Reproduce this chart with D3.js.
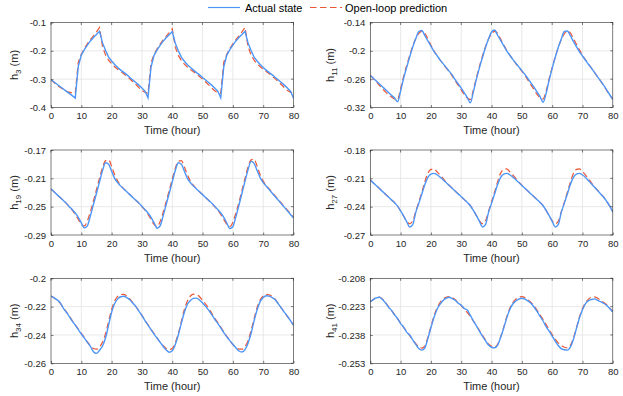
<!DOCTYPE html>
<html><head><meta charset="utf-8">
<script src="https://cdn.jsdelivr.net/npm/d3@7"></script>
<style>
body{margin:0;background:#fff}
svg{display:block;font-family:"Liberation Sans",Arial,Helvetica,sans-serif}
</style>
</head><body>
<script>
// ---------- data ----------
const hours = [0,1,2,3,4,5,6,7,8,9,10,11,12,13,14,15,16,17,18,19,20,21,22,23,24,25,26,27,28,29,30,31,32,33,34,35,36,37,38,39,40,41,42,43,44,45,46,47,48,49,50,51,52,53,54,55,56,57,58,59,60,61,62,63,64,65,66,67,68,69,70,71,72,73,74,75,76,77,78,79,80];
const xTicks = [0,10,20,30,40,50,60,70,80];
const seriesNames = ["Actual state","Open-loop prediction"];
const nodeIds = ["3","11","19","27","34","41"];

const h3Actual = [-0.302,-0.310,-0.318,-0.326,-0.334,-0.342,-0.350,-0.358,-0.367,
 -0.255,-0.215,-0.196,-0.180,-0.165,-0.153,-0.142,-0.131,-0.172,-0.199,-0.222,-0.236,-0.248,-0.259,-0.268,-0.276,-0.284,-0.294,-0.303,-0.312,-0.321,-0.331,-0.342,-0.366,
 -0.257,-0.216,-0.197,-0.181,-0.166,-0.154,-0.143,-0.132,-0.173,-0.200,-0.222,-0.237,-0.249,-0.259,-0.268,-0.277,-0.285,-0.294,-0.303,-0.312,-0.321,-0.331,-0.342,-0.366,
 -0.256,-0.215,-0.196,-0.180,-0.165,-0.153,-0.142,-0.131,-0.172,-0.199,-0.222,-0.236,-0.248,-0.259,-0.268,-0.277,-0.285,-0.294,-0.303,-0.312,-0.321,-0.331,-0.342,-0.367];
const h3Pred = [-0.302,-0.312,-0.321,-0.329,-0.336,-0.342,-0.346,-0.349,-0.350,
 -0.240,-0.212,-0.192,-0.175,-0.160,-0.147,-0.133,-0.118,-0.185,-0.215,-0.233,-0.246,-0.256,-0.265,-0.273,-0.281,-0.290,-0.299,-0.309,-0.319,-0.330,-0.340,-0.346,-0.350,
 -0.242,-0.213,-0.193,-0.176,-0.161,-0.149,-0.136,-0.122,-0.187,-0.216,-0.234,-0.247,-0.257,-0.266,-0.274,-0.282,-0.291,-0.300,-0.310,-0.320,-0.331,-0.341,-0.347,-0.350,
 -0.240,-0.212,-0.192,-0.175,-0.160,-0.147,-0.133,-0.117,-0.185,-0.215,-0.233,-0.246,-0.256,-0.265,-0.273,-0.281,-0.290,-0.299,-0.309,-0.319,-0.330,-0.340,-0.346,-0.349];

const h11Actual = [-0.252,-0.258,-0.264,-0.270,-0.276,-0.282,-0.288,-0.294,-0.300,-0.308,
 -0.285,-0.258,-0.235,-0.213,-0.192,-0.174,-0.159,
 -0.157,-0.168,-0.179,-0.190,-0.201,-0.210,-0.219,-0.227,-0.235,-0.243,-0.251,-0.261,-0.270,-0.279,-0.289,-0.299,-0.310,
 -0.287,-0.260,-0.236,-0.214,-0.193,-0.175,-0.160,-0.156,-0.167,-0.178,-0.189,-0.200,-0.209,-0.218,-0.226,-0.234,-0.242,-0.250,-0.259,-0.268,-0.277,-0.287,-0.297,-0.309,
 -0.290,-0.262,-0.237,-0.214,-0.193,-0.175,-0.159,-0.158,-0.168,-0.180,-0.191,-0.202,-0.211,-0.220,-0.229,-0.237,-0.246,-0.255,-0.264,-0.273,-0.283,-0.293,-0.303];
const h11Pred = [-0.252,-0.259,-0.266,-0.273,-0.280,-0.287,-0.293,-0.298,-0.302,-0.303,
 -0.280,-0.254,-0.231,-0.210,-0.190,-0.174,-0.163,
 -0.159,-0.163,-0.175,-0.188,-0.200,-0.210,-0.219,-0.228,-0.236,-0.244,-0.253,-0.263,-0.273,-0.283,-0.293,-0.300,-0.303,
 -0.283,-0.257,-0.233,-0.211,-0.191,-0.175,-0.164,-0.159,-0.163,-0.175,-0.187,-0.199,-0.209,-0.218,-0.227,-0.235,-0.243,-0.252,-0.262,-0.272,-0.282,-0.292,-0.299,-0.302,
 -0.285,-0.259,-0.235,-0.213,-0.193,-0.176,-0.164,-0.158,-0.162,-0.174,-0.186,-0.198,-0.209,-0.219,-0.228,-0.237,-0.246,-0.255,-0.264,-0.274,-0.284,-0.294,-0.302];

const h19Actual = [-0.225,-0.229,-0.233,-0.237,-0.241,-0.245,-0.250,-0.254,-0.259,-0.265,-0.273,-0.280,
 -0.277,-0.263,-0.247,-0.231,-0.215,-0.199,-0.188,
 -0.190,-0.200,-0.210,-0.216,-0.221,-0.225,-0.229,-0.233,-0.237,-0.241,-0.245,-0.2495,-0.254,-0.259,-0.265,-0.273,-0.2805,
 -0.277,-0.263,-0.247,-0.231,-0.215,-0.199,-0.188,-0.190,-0.200,-0.210,-0.216,-0.221,-0.225,-0.229,-0.233,-0.237,-0.241,-0.245,-0.2495,-0.254,-0.259,-0.265,-0.273,-0.281,
 -0.278,-0.264,-0.248,-0.231,-0.214,-0.198,-0.186,-0.189,-0.199,-0.209,-0.216,-0.221,-0.226,-0.231,-0.236,-0.241,-0.246,-0.251,-0.256,-0.261,-0.266];
const h19Pred = [-0.225,-0.229,-0.233,-0.237,-0.241,-0.245,-0.250,-0.255,-0.261,-0.268,-0.275,-0.277,
 -0.270,-0.257,-0.242,-0.226,-0.210,-0.195,-0.185,
 -0.184,-0.193,-0.205,-0.214,-0.220,-0.225,-0.229,-0.233,-0.237,-0.241,-0.245,-0.250,-0.255,-0.261,-0.268,-0.275,-0.278,
 -0.271,-0.258,-0.243,-0.227,-0.211,-0.196,-0.186,-0.185,-0.194,-0.205,-0.214,-0.220,-0.225,-0.229,-0.233,-0.237,-0.241,-0.245,-0.250,-0.255,-0.261,-0.268,-0.275,-0.278,
 -0.272,-0.259,-0.244,-0.227,-0.210,-0.194,-0.184,-0.183,-0.193,-0.205,-0.214,-0.220,-0.225,-0.230,-0.235,-0.240,-0.245,-0.250,-0.255,-0.260,-0.265];

const h27Actual = [-0.2118,-0.2148,-0.2178,-0.2208,-0.2238,-0.2268,-0.2298,-0.2328,-0.2358,-0.2395,-0.2445,-0.2500,-0.2558,-0.2615,
 -0.2590,-0.2460,-0.2365,-0.2265,-0.2165,-0.2090,-0.2055,-0.2048,
 -0.2062,-0.2085,-0.2115,-0.2145,-0.2175,-0.2205,-0.2235,-0.2265,-0.2295,-0.2325,-0.2355,-0.2390,-0.2440,-0.2495,-0.2555,-0.2615,
 -0.2590,-0.2460,-0.2365,-0.2265,-0.2165,-0.2090,-0.2055,-0.2048,-0.2062,-0.2085,-0.2115,-0.2145,-0.2175,-0.2205,-0.2235,-0.2265,-0.2295,-0.2325,-0.2355,-0.2390,-0.2440,-0.2495,-0.2555,-0.2615,
 -0.2590,-0.2460,-0.2365,-0.2265,-0.2165,-0.2090,-0.2055,-0.2048,
 -0.2065,-0.2090,-0.2125,-0.2160,-0.2195,-0.2230,-0.2265,-0.2300,-0.2345,-0.2395,-0.2455];
const h27Pred = [-0.2118,-0.2148,-0.2178,-0.2208,-0.2238,-0.2268,-0.2298,-0.2328,-0.2358,-0.2395,-0.2445,-0.2500,-0.2555,-0.2580,
 -0.2550,-0.2450,-0.2350,-0.2245,-0.2135,-0.2045,-0.2005,-0.2000,
 -0.2030,-0.2065,-0.2100,-0.2140,-0.2172,-0.2205,-0.2235,-0.2265,-0.2295,-0.2325,-0.2355,-0.2390,-0.2440,-0.2495,-0.2550,-0.2580,
 -0.2550,-0.2450,-0.2350,-0.2245,-0.2135,-0.2045,-0.2005,-0.2000,-0.2030,-0.2065,-0.2100,-0.2140,-0.2172,-0.2205,-0.2235,-0.2265,-0.2295,-0.2325,-0.2355,-0.2390,-0.2440,-0.2495,-0.2550,-0.2580,
 -0.2555,-0.2455,-0.2355,-0.2250,-0.2140,-0.2050,-0.2005,-0.2000,
 -0.2030,-0.2065,-0.2105,-0.2150,-0.2190,-0.2228,-0.2265,-0.2300,-0.2345,-0.2395,-0.2455];

const h34Actual = [-0.2125,-0.2138,-0.2152,-0.2172,-0.2208,-0.2238,-0.2268,-0.2302,-0.2331,-0.2362,-0.2393,-0.2421,-0.2452,-0.2481,-0.2518,-0.2530,-0.2508,-0.2478,-0.2420,-0.2330,
 -0.2240,-0.2178,-0.2145,-0.2130,-0.2127,-0.2136,-0.2152,-0.2176,-0.2200,-0.2232,-0.2263,-0.2298,-0.2330,-0.2362,-0.2394,-0.2423,-0.2452,-0.2481,-0.2506,-0.2522,
 -0.2512,-0.2468,-0.2400,-0.2318,-0.2240,-0.2183,-0.2157,-0.2142,-0.2140,-0.2153,-0.2174,-0.2198,-0.2225,-0.2256,-0.2289,-0.2318,-0.2350,-0.2384,-0.2413,-0.2440,
 -0.2466,-0.2490,-0.2513,-0.2520,-0.2503,-0.2458,-0.2390,-0.2300,-0.2222,-0.2165,-0.2136,-0.2123,-0.2126,-0.2137,-0.2152,-0.2181,-0.2210,-0.2240,-0.2268,-0.2299,-0.2330];
const h34Pred = [-0.2125,-0.2138,-0.2155,-0.2175,-0.2205,-0.2235,-0.2265,-0.2298,-0.2328,-0.2358,-0.2388,-0.2418,-0.2448,-0.2475,-0.2495,-0.2500,-0.2485,-0.2450,-0.2390,-0.2305,
 -0.2220,-0.2160,-0.2128,-0.2115,-0.2113,-0.2125,-0.2145,-0.2172,-0.2200,-0.2230,-0.2262,-0.2295,-0.2328,-0.2360,-0.2390,-0.2420,-0.2450,-0.2475,-0.2495,-0.2503,
 -0.2495,-0.2455,-0.2390,-0.2305,-0.2220,-0.2160,-0.2125,-0.2112,-0.2115,-0.2130,-0.2155,-0.2182,-0.2212,-0.2245,-0.2280,-0.2312,-0.2345,-0.2378,-0.2410,-0.2440,
 -0.2468,-0.2488,-0.2500,-0.2500,-0.2482,-0.2440,-0.2370,-0.2285,-0.2205,-0.2152,-0.2125,-0.2113,-0.2116,-0.2130,-0.2150,-0.2180,-0.2210,-0.2240,-0.2270,-0.2300,-0.2330];

const h41Actual = [-0.2204,-0.2193,-0.2184,-0.2180,-0.2192,-0.2210,-0.2233,-0.2250,-0.2274,-0.2293,-0.2320,-0.2338,-0.2365,-0.2380,-0.2406,-0.2430,-0.2452,-0.2460,-0.2448,-0.2398,
 -0.2342,-0.2288,-0.2245,-0.2218,-0.2197,-0.2186,-0.2180,-0.2187,-0.2196,-0.2212,-0.2222,-0.2240,-0.2248,-0.2276,-0.2305,-0.2332,-0.2360,-0.2386,-0.2410,-0.2433,
 -0.2445,-0.2448,-0.2434,-0.2393,-0.2344,-0.2290,-0.2246,-0.2216,-0.2200,-0.2190,-0.2186,-0.2190,-0.2200,-0.2212,-0.2232,-0.2255,-0.2282,-0.2306,-0.2336,-0.2360,
 -0.2386,-0.2412,-0.2436,-0.2452,-0.2458,-0.2460,-0.2444,-0.2404,-0.2346,-0.2290,-0.2246,-0.2214,-0.2198,-0.2192,-0.2189,-0.2197,-0.2204,-0.2212,-0.2224,-0.2240,-0.2258];
const h41Pred = [-0.2204,-0.2192,-0.2182,-0.2180,-0.2190,-0.2208,-0.2230,-0.2250,-0.2272,-0.2294,-0.2317,-0.2340,-0.2362,-0.2384,-0.2405,-0.2426,-0.2442,-0.2450,-0.2438,-0.2392,
 -0.2335,-0.2280,-0.2238,-0.2208,-0.2190,-0.2180,-0.2177,-0.2182,-0.2193,-0.2208,-0.2225,-0.2243,-0.2262,-0.2283,-0.2306,-0.2330,-0.2356,-0.2382,-0.2406,-0.2428,
 -0.2440,-0.2444,-0.2430,-0.2390,-0.2340,-0.2285,-0.2240,-0.2208,-0.2190,-0.2180,-0.2177,-0.2182,-0.2193,-0.2208,-0.2226,-0.2248,-0.2272,-0.2298,-0.2325,-0.2352,
 -0.2378,-0.2402,-0.2422,-0.2436,-0.2445,-0.2448,-0.2435,-0.2398,-0.2342,-0.2285,-0.2240,-0.2208,-0.2190,-0.2180,-0.2178,-0.2186,-0.2197,-0.2208,-0.2220,-0.2238,-0.2256];

const yTicks3  = [-0.4,-0.3,-0.2,-0.1];
const yTicks11 = [-0.32,-0.26,-0.2,-0.14];
const yTicks19 = [-0.29,-0.25,-0.21,-0.17];
const yTicks27 = [-0.27,-0.24,-0.21,-0.18];
const yTicks34 = [-0.26,-0.24,-0.22,-0.2];
const yTicks41 = [-0.253,-0.238,-0.223,-0.208];

// ---------- layout / style ----------
const W = 623, H = 396;
const colX = [51, 370.3], plotW = 242.5;
const rowY = [22.5, 150, 278.3], plotH = 85;
const blue = "#4d96f7", red = "#ea5534";
const axisColor = "#262626";

const panels = [
  {id: nodeIds[0], actual: h3Actual,  pred: h3Pred,  ticks: yTicks3,  curve: d3.curveLinear},
  {id: nodeIds[1], actual: h11Actual, pred: h11Pred, ticks: yTicks11, curve: d3.curveMonotoneX},
  {id: nodeIds[2], actual: h19Actual, pred: h19Pred, ticks: yTicks19, curve: d3.curveMonotoneX},
  {id: nodeIds[3], actual: h27Actual, pred: h27Pred, ticks: yTicks27, curve: d3.curveMonotoneX},
  {id: nodeIds[4], actual: h34Actual, pred: h34Pred, ticks: yTicks34, curve: d3.curveMonotoneX},
  {id: nodeIds[5], actual: h41Actual, pred: h41Pred, ticks: yTicks41, curve: d3.curveMonotoneX}
];

const svg = d3.select("body").append("svg").attr("width", W).attr("height", H);
svg.append("rect").attr("width", W).attr("height", H).attr("fill", "#fff");

panels.forEach((p, i) => {
  const col = i % 2, row = Math.floor(i / 2);
  const x0 = colX[col], y0 = rowY[row];
  const g = svg.append("g").attr("transform", `translate(${x0},${y0})`);
  const x = d3.scaleLinear().domain([0, 80]).range([0, plotW]);
  const y = d3.scaleLinear().domain([p.ticks[0], p.ticks[p.ticks.length - 1]]).range([plotH, 0]);

  // grid
  g.append("g").selectAll("line.gx").data(xTicks.slice(1, -1)).join("line")
    .attr("x1", d => x(d)).attr("x2", d => x(d)).attr("y1", 0).attr("y2", plotH)
    .attr("stroke", "#dfdfdf").attr("stroke-width", 0.7);
  g.append("g").selectAll("line.gy").data(p.ticks.slice(1, -1)).join("line")
    .attr("y1", d => y(d)).attr("y2", d => y(d)).attr("x1", 0).attr("x2", plotW)
    .attr("stroke", "#dfdfdf").attr("stroke-width", 0.7);

  // lines
  const clipId = "clip" + i;
  g.append("clipPath").attr("id", clipId).append("rect").attr("width", plotW).attr("height", plotH);
  const line = arr => d3.line().curve(p.curve).x((d, k) => x(hours[k])).y(d => y(d))(arr);
  const lg = g.append("g").attr("clip-path", `url(#${clipId})`);
  lg.append("path").attr("d", line(p.pred)).attr("fill", "none").attr("stroke", red)
    .attr("stroke-width", 1.2).attr("stroke-dasharray", "6,3.5");
  lg.append("path").attr("d", line(p.actual)).attr("fill", "none").attr("stroke", blue)
    .attr("stroke-width", 1.4);

  // axes (d3 axis, ticks inward)
  const ax = g.append("g").attr("transform", `translate(0,${plotH})`)
    .call(d3.axisBottom(x).tickValues(xTicks).tickSizeInner(-2.5).tickSizeOuter(0).tickPadding(5));
  const ay = g.append("g")
    .call(d3.axisLeft(y).tickValues(p.ticks).tickFormat(d => String(d)).tickSizeInner(-2.5).tickSizeOuter(0).tickPadding(5));
  [ax, ay].forEach(a => {
    a.select(".domain").remove();
    a.selectAll(".tick line").attr("stroke", axisColor).attr("stroke-width", 0.6);
    a.selectAll(".tick text").attr("fill", axisColor).attr("font-size", 9.5)
      .attr("font-family", '"Liberation Sans",Arial,sans-serif');
  });
  ax.selectAll(".tick text").attr("dy", "0.72em");
  // mirrored ticks on top/right
  g.append("g").selectAll("line").data(xTicks).join("line")
    .attr("x1", d => x(d)).attr("x2", d => x(d)).attr("y1", 0).attr("y2", 2.5)
    .attr("stroke", axisColor).attr("stroke-width", 0.6);
  g.append("g").selectAll("line").data(p.ticks).join("line")
    .attr("y1", d => y(d)).attr("y2", d => y(d)).attr("x1", plotW).attr("x2", plotW - 2.5)
    .attr("stroke", axisColor).attr("stroke-width", 0.6);
  // box
  g.append("rect").attr("width", plotW).attr("height", plotH).attr("fill", "none")
    .attr("stroke", axisColor).attr("stroke-width", 0.6);

  // x label
  g.append("text").attr("x", plotW / 2).attr("y", plotH + 26.5).attr("text-anchor", "middle")
    .attr("font-size", 11).attr("fill", axisColor).text("Time (hour)");
  // y label
  const lx = col === 0 ? 17.5 - x0 : 333.5 - x0;
  const yl = g.append("text").attr("transform", `translate(${lx},${plotH / 2}) rotate(-90)`)
    .attr("text-anchor", "middle").attr("font-size", 11).attr("fill", axisColor);
  yl.append("tspan").text("h");
  yl.append("tspan").attr("font-size", 8).attr("dy", 3).text(p.id);
  yl.append("tspan").attr("dy", -3).text(" (m)");
});

// legend
const leg = svg.append("g");
leg.append("line").attr("x1", 208).attr("x2", 240).attr("y1", 7.5).attr("y2", 7.5)
  .attr("stroke", blue).attr("stroke-width", 1.2);
leg.append("text").attr("x", 245).attr("y", 11.5).attr("font-size", 11).attr("fill", "#000").text(seriesNames[0]);
leg.append("line").attr("x1", 310).attr("x2", 342).attr("y1", 7.5).attr("y2", 7.5)
  .attr("stroke", red).attr("stroke-width", 1.1).attr("stroke-dasharray", "6.5,3.5");
leg.append("text").attr("x", 345).attr("y", 11.5).attr("font-size", 11).attr("fill", "#000").text(seriesNames[1]);
</script>
</body></html>
